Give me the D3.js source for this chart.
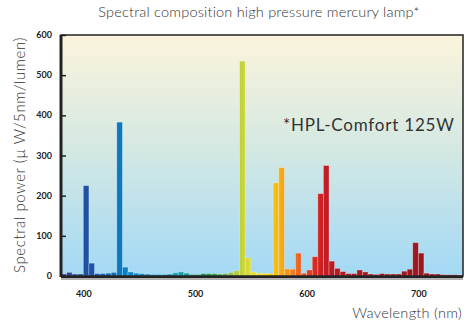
<!DOCTYPE html>
<html>
<head>
<meta charset="utf-8">
<script src="https://cdn.jsdelivr.net/npm/d3@7"></script>
<style>
  body { margin: 0; background: #fff; }
  text { font-family: Lato, "Open Sans", sans-serif; }
</style>
</head>
<body>
<svg width="467" height="324"></svg>
<script>
// 5nm bins, value is the start wavelength of the bin
var wavelengths = d3.range(380, 740, 5);
var power = [
  5, 9, 5, 5, 225, 32, 6, 6, 7, 9,          // 380-425
  383, 22, 10, 7, 6, 5, 4, 4, 4, 5,         // 430-475
  8, 10, 7, 4, 4, 6, 6, 6, 5, 6,            // 480-525
  9, 13, 535, 45, 10, 7, 6, 6, 232, 270,    // 530-575
  18, 17, 57, 7, 15, 48, 205, 275, 37, 19,  // 580-625
  11, 6, 6, 15, 10, 5, 4, 6, 5, 5,          // 630-675
  5, 12, 17, 83, 57, 7, 5, 5, 3, 3,         // 680-725
  3, 2                                      // 730-735
];
var yTicks = [0, 100, 200, 300, 400, 500, 600];
var xTicks = [400, 500, 600, 700];

// colour stops along the spectrum
var specStops = [
  [380, "#2c3c96"], [400, "#1f4ea2"], [420, "#1560ae"], [435, "#0a7dc2"],
  [460, "#1594cf"], [485, "#13a0b0"], [495, "#0f9c8a"], [510, "#179a55"],
  [525, "#5aac45"], [535, "#a8c83c"], [545, "#d0d838"], [555, "#f0e22a"],
  [565, "#f8d400"], [575, "#f6b414"], [585, "#f28a1e"], [595, "#ea5a22"],
  [605, "#e0301f"], [615, "#c81c24"], [630, "#b01a22"], [660, "#a0181f"],
  [740, "#98161e"]
];

var svg = d3.select("svg");
var margin = {left: 61, right: 4, top: 35, bottom: 48};
var W = 467, H = 324;

var x = d3.scaleLinear().domain([380, 740]).range([margin.left, W - margin.right]);
var y = d3.scaleLinear().domain([0, 600]).range([H - margin.bottom, margin.top]);

var defs = svg.append("defs");
var bg = defs.append("linearGradient").attr("id", "bg")
    .attr("x1", 0).attr("y1", 0).attr("x2", 0).attr("y2", 1);
bg.append("stop").attr("offset", "0%").attr("stop-color", "#fcf4dc");
bg.append("stop").attr("offset", "45%").attr("stop-color", "#d6e9e2");
bg.append("stop").attr("offset", "100%").attr("stop-color", "#a3d9f5");

var spec = defs.append("linearGradient").attr("id", "spec")
    .attr("gradientUnits", "userSpaceOnUse")
    .attr("x1", x(380)).attr("x2", x(740)).attr("y1", 0).attr("y2", 0);
spec.selectAll("stop").data(specStops).enter().append("stop")
    .attr("offset", function(d) { return (d[0] - 380) / 360; })
    .attr("stop-color", function(d) { return d[1]; });

// plot background
svg.append("rect")
    .attr("x", x(380)).attr("y", y(600))
    .attr("width", x(740) - x(380)).attr("height", y(0) - y(600))
    .attr("fill", "url(#bg)");

// bars
svg.append("g").selectAll("rect")
    .data(wavelengths)
    .enter().append("rect")
    .attr("x", function(d) { return x(d); })
    .attr("width", function(d) { return x(d + 5) - x(d); })
    .attr("y", function(d, i) { return y(power[i]); })
    .attr("height", function(d, i) { return y(0) - y(power[i]); })
    .attr("fill", "url(#spec)")
    .attr("stroke", "#ffffff")
    .attr("stroke-opacity", 0.35)
    .attr("stroke-width", 0.8);

// frame
svg.append("rect")
    .attr("x", x(380)).attr("y", y(600))
    .attr("width", x(740) - x(380)).attr("height", y(0) - y(600))
    .attr("fill", "none").attr("stroke", "#222").attr("stroke-width", 1.5);
svg.append("line")
    .attr("x1", x(380)).attr("x2", x(380)).attr("y1", y(600)).attr("y2", y(0) + 1)
    .attr("stroke", "#222").attr("stroke-width", 3);
svg.append("line")
    .attr("x1", x(380)).attr("x2", x(740)).attr("y1", y(0) + 1).attr("y2", y(0) + 1)
    .attr("stroke", "#222").attr("stroke-width", 2);
svg.append("line")
    .attr("x1", x(380)).attr("x2", x(740)).attr("y1", y(0) + 3).attr("y2", y(0) + 3)
    .attr("stroke", "#999").attr("stroke-width", 1.5);

// y axis: inner ticks + bold labels
var yAxis = d3.axisRight(y).tickValues(yTicks).tickSize(5).tickFormat("");
var gy = svg.append("g").attr("transform", "translate(" + x(380) + ",0)").call(yAxis);
gy.select(".domain").remove();
gy.selectAll("line").attr("stroke", "#222").attr("stroke-width", 1.5);

svg.append("g").selectAll("text")
    .data(yTicks)
    .enter().append("text")
    .attr("x", 52).attr("y", function(d) { return y(d) + 3; })
    .attr("text-anchor", "end")
    .attr("font-size", 9).attr("font-weight", "bold").attr("fill", "#222")
    .text(function(d) { return d; });

var xAxis = d3.axisBottom(x).tickValues(xTicks).tickSize(0).tickPadding(15);
var gx = svg.append("g").attr("transform", "translate(0," + y(0) + ")").call(xAxis);
gx.select(".domain").remove();
gx.selectAll("text")
    .attr("font-family", "Lato, 'Open Sans', sans-serif")
    .attr("font-size", 9).attr("font-weight", "bold").attr("fill", "#222");

// titles
svg.append("text")
    .attr("x", 259).attr("y", 17)
    .attr("text-anchor", "middle")
    .attr("font-size", 14.5).attr("font-weight", 300).attr("letter-spacing", 0.2)
    .attr("fill", "#333")
    .text("Spectral composition high pressure mercury lamp*");

svg.append("text")
    .attr("transform", "translate(25," + 155 + ") rotate(-90)")
    .attr("text-anchor", "middle")
    .attr("font-size", 15).attr("font-weight", 300).attr("letter-spacing", 0.6)
    .attr("fill", "#333")
    .text("Spectral power (\u00b5 W/5nm/lumen)");

svg.append("text")
    .attr("x", 462).attr("y", 318)
    .attr("text-anchor", "end")
    .attr("font-size", 14.5).attr("font-weight", 300).attr("letter-spacing", 0.3)
    .attr("fill", "#333")
    .text("Wavelength (nm)");

svg.append("text")
    .attr("x", 283).attr("y", 131)
    .attr("font-size", 17).attr("letter-spacing", 0.8).attr("fill", "#333")
    .text("*HPL-Comfort 125W");
</script>
</body>
</html>
